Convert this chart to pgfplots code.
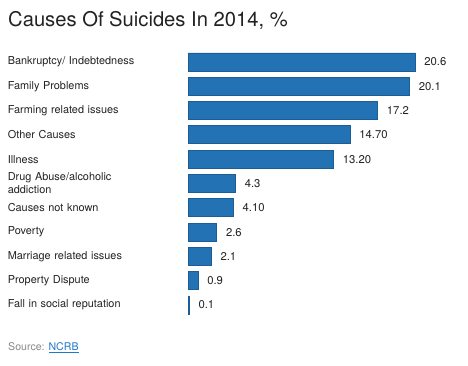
\documentclass[border=0pt]{standalone}
\usepackage{pgfplots}
\pgfplotsset{compat=1.18}
\usepackage{pgfplotstable}
\usepackage{fontspec}
\setmainfont{TeX Gyre Heros}
\definecolor{barfill}{HTML}{2272B4}
\definecolor{bardraw}{HTML}{1B5D94}
\definecolor{txt}{HTML}{222222}
\definecolor{srcgray}{HTML}{8A8A8A}
\definecolor{linkblue}{HTML}{1F78C8}
\pgfplotstableread[col sep=comma]{
idx,val,lab
0,20.6,20.6
1,20.1,20.1
2,17.2,17.2
3,14.7,14.70
4,13.2,13.20
5,4.3,4.3
6,4.1,4.10
7,2.6,2.6
8,2.1,2.1
9,0.9,0.9
10,0.1,0.1
}\datatable
\begin{document}
\begin{tikzpicture}[x=1pt,y=1pt]
\path[use as bounding box] (0,0) rectangle (468,366);
\node[anchor=base west, inner sep=0pt, font=\fontsize{20.2}{24}\selectfont, text=txt] at (8,366-27) {Causes Of Suicides In 2014, \%};
\begin{axis}[
  at={(188pt,316.15pt)}, anchor=north west,
  scale only axis, width=275.5pt, height=267.3pt,
  xbar, bar width=18pt,
  xmin=0, xmax=25, ymin=-0.5, ymax=10.5,
  y dir=reverse,
  axis line style={draw=none},
  major tick length=0pt,
  xtick=\empty,
  ytick={0,...,10},
  yticklabels={Bankruptcy/ Indebtedness, Family Problems, Farming related issues, Other Causes, Illness, {Drug Abuse/alcoholic\\addiction}, Causes not known, Poverty, Marriage related issues, Property Dispute, Fall in social reputation},
  yticklabel style={anchor=east, inner sep=0pt, text width=180pt, align=left, font=\fontsize{10.9}{13}\selectfont, text=txt},
  point meta=explicit symbolic,
  nodes near coords,
  nodes near coords style={anchor=west, inner sep=0pt, xshift=9pt, font=\fontsize{11.3}{13.5}\selectfont, text=txt},
  clip=false,
]
\addplot[fill=barfill, draw=bardraw, line width=0.8pt] table[x=val, y=idx, meta=lab] {\datatable};
\end{axis}
\node[anchor=base west, inner sep=0pt, font=\fontsize{10.6}{12}\selectfont] at (8,366-351) {\textcolor{srcgray}{Source:} \textcolor{linkblue}{\underline{NCRB}}};
\end{tikzpicture}
\end{document}
